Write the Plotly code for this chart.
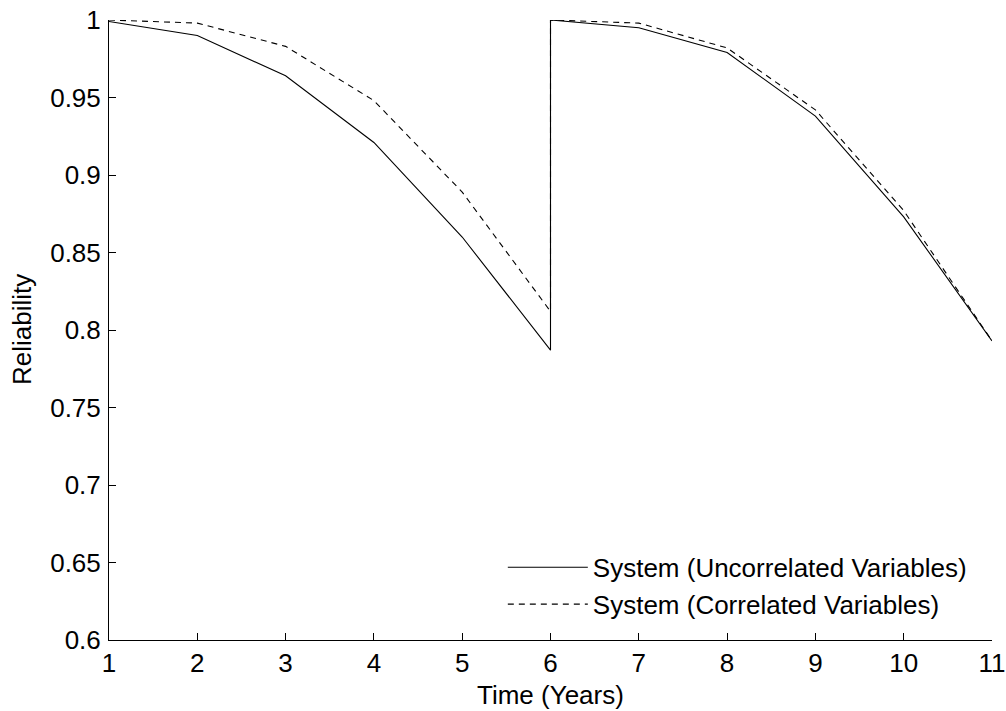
import plotly.graph_objects as go

time_years = [1, 2, 3, 4, 5, 6, 6, 7, 8, 9, 10, 11]
uncorrelated = [0.999, 0.990, 0.964, 0.921, 0.860, 0.787, 1.000, 0.995, 0.979, 0.938, 0.873, 0.793]
correlated = [1.000, 0.998, 0.983, 0.948, 0.889, 0.812, 1.000, 0.998, 0.982, 0.942, 0.877, 0.793]
x_ticks = list(range(1, 12))
y_ticks = [0.6, 0.65, 0.7, 0.75, 0.8, 0.85, 0.9, 0.95, 1]
y_tick_labels = ["0.6", "0.65", "0.7", "0.75", "0.8", "0.85", "0.9", "0.95", "1"]

fig = go.Figure()
fig.add_trace(go.Scatter(x=time_years, y=uncorrelated, mode="lines",
                         name="System (Uncorrelated Variables)",
                         line=dict(color="black", width=1.1, dash="solid")))
fig.add_trace(go.Scatter(x=time_years, y=correlated, mode="lines",
                         name="System (Correlated Variables)",
                         line=dict(color="black", width=1.1, dash="6px,5px")))

font = dict(family="Liberation Sans, Arial, Helvetica, sans-serif", size=26, color="black")
fig.update_layout(
    width=1006, height=711,
    margin=dict(l=109, r=14, t=20, b=71, autoexpand=False),
    paper_bgcolor="white", plot_bgcolor="white",
    font=font,
    showlegend=True,
    legend=dict(x=0.446, y=0.155, xanchor="left", yanchor="top",
                bgcolor="rgba(0,0,0,0)", borderwidth=0, itemwidth=80,
                font=font, tracegroupgap=0),
    xaxis=dict(range=[1, 11], tickvals=x_ticks, ticks="inside", ticklen=7,
               tickcolor="black", showline=True, linecolor="black", linewidth=1,
               showgrid=False, zeroline=False, mirror=False, automargin=False,
               ticklabeloverflow="allow"),
    yaxis=dict(range=[0.6, 1], tickvals=y_ticks, ticktext=y_tick_labels,
               ticks="inside", ticklen=7, tickcolor="black", ticklabelstandoff=2,
               showline=True, linecolor="black", linewidth=1,
               showgrid=False, zeroline=False, mirror=False, automargin=False,
               ticklabeloverflow="allow"),
    annotations=[
        dict(text="Time (Years)", xref="paper", yref="paper", x=0.5, y=-55/620,
             xanchor="center", yanchor="middle", showarrow=False, font=font),
        dict(text="Reliability", xref="paper", yref="paper", x=-87/883, y=0.5,
             xanchor="center", yanchor="middle", textangle=-90, showarrow=False, font=font),
    ],
)
fig.write_html("out.html", config={"displayModeBar": False},
               post_script="document.body.style.margin='0';document.body.style.overflow='hidden';")
